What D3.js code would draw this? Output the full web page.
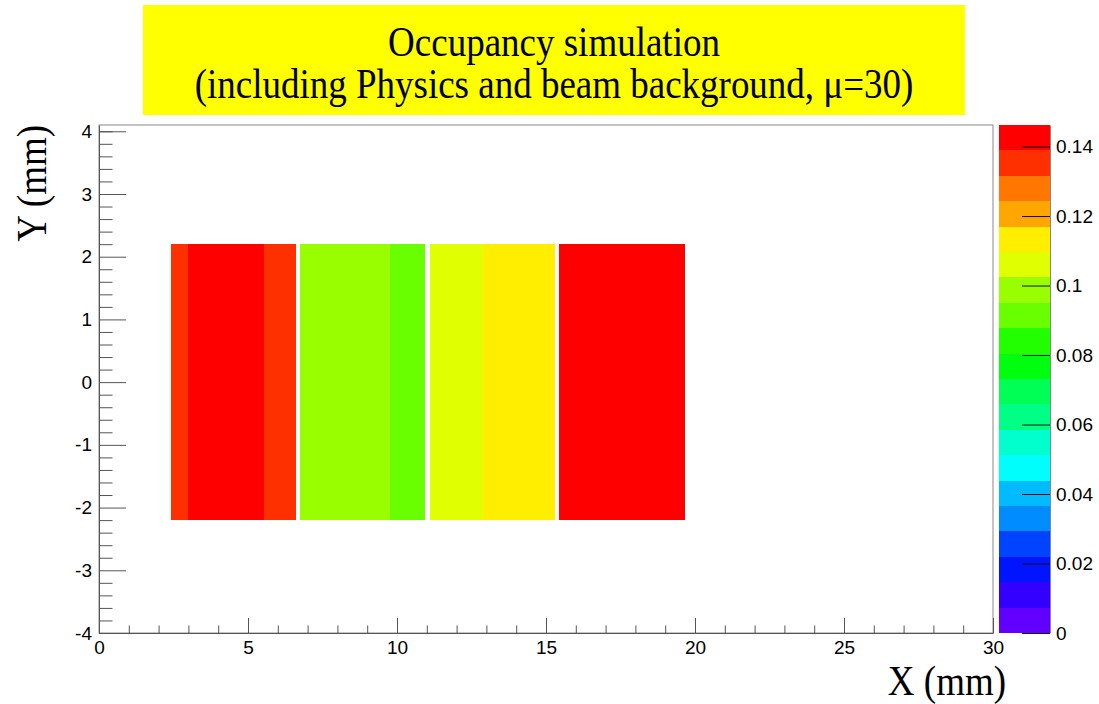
<!DOCTYPE html>
<html>
<head>
<meta charset="utf-8">
<script src="https://cdn.jsdelivr.net/npm/d3@7"></script>
<style>
  body { margin: 0; background: #fff; }
  svg { display: block; }
</style>
</head>
<body>
<svg id="chart" width="1099" height="704"></svg>
<script>
// ---- chart content ----
const titleLines = ["Occupancy simulation", "(including Physics and beam background, \u03bc=30)"];
const xTitle = "X (mm)";
const yTitle = "Y (mm)";

// Occupancy cells: x edges (mm), y span (mm), occupancy value
const cellX0 = [2.4, 3.0, 5.55, 6.75, 9.75, 11.1, 12.9, 15.45];
const cellX1 = [3.0, 5.55, 6.6, 9.75, 10.95, 12.9, 15.3, 19.65];
const cellYLow = [-2.2, -2.2, -2.2, -2.2, -2.2, -2.2, -2.2, -2.2];
const cellYHigh = [2.2, 2.2, 2.2, 2.2, 2.2, 2.2, 2.2, 2.2];
const cellZ = [0.135, 0.144, 0.135, 0.098, 0.092, 0.106, 0.113, 0.146];

// Axis ranges and tick labels
const xDomain = [0, 30];
const yDomain = [-4, 4.1];
const zDomain = [0, 0.1462];
const xTicks = [0, 5, 10, 15, 20, 25, 30];
const xMinorTicks = [1, 2, 3, 4, 6, 7, 8, 9, 11, 12, 13, 14, 16, 17, 18, 19, 21, 22, 23, 24, 26, 27, 28, 29];
const yTicks = [-4, -3, -2, -1, 0, 1, 2, 3, 4];
const yTickLabels = ["-4", "-3", "-2", "-1", "0", "1", "2", "3", "4"];
const yMinorTicks = [-3.8, -3.6, -3.4, -3.2, -2.8, -2.6, -2.4, -2.2, -1.8, -1.6, -1.4, -1.2,
  -0.8, -0.6, -0.4, -0.2, 0.2, 0.4, 0.6, 0.8, 1.2, 1.4, 1.6, 1.8, 2.2, 2.4, 2.6, 2.8,
  3.2, 3.4, 3.6, 3.8, 4.0];
const zTicks = [0, 0.02, 0.04, 0.06, 0.08, 0.1, 0.12, 0.14];
const zTickLabels = ["0", "0.02", "0.04", "0.06", "0.08", "0.1", "0.12", "0.14"];

// 20-level violet -> red contour palette
const palette = [
  "#6200ff", "#3300ff", "#0014ff", "#0044ff", "#008bff",
  "#00bbff", "#00fffc", "#00ffcc", "#00ff85", "#00ff55",
  "#00ff0e", "#22ff00", "#69ff00", "#99ff00", "#e0ff00",
  "#ffee00", "#ffa700", "#ff7700", "#ff3000", "#ff0000"
];

// ---- layout ----
const frame = { left: 99, right: 993, top: 125, bottom: 633 };
const bar = { left: 999, right: 1050 };
const serif = "'Liberation Serif', 'Times New Roman', serif";
const sans = "'Liberation Sans', Arial, Helvetica, sans-serif";
const serifSize = 37;
const serifStretch = 1.13;   // tall, narrow serif lettering
const labelSize = 19;

const svg = d3.select("#chart");

const x = d3.scaleLinear().domain(xDomain).range([frame.left, frame.right]);
const y = d3.scaleLinear().domain(yDomain).range([frame.bottom, frame.top]);
const zPos = d3.scaleLinear().domain(zDomain).range([frame.bottom, frame.top]);
const zColor = d3.scaleQuantize().domain(zDomain).range(palette);

// Title box
const titleG = svg.append("g");
titleG.append("rect")
  .attr("x", 143).attr("y", 5).attr("width", 822).attr("height", 110)
  .attr("fill", "#ffff00");
titleG.selectAll("text").data(titleLines).join("text")
  .attr("transform", (d, i) => `translate(554,${56 + i * 42}) scale(1,${serifStretch})`)
  .attr("text-anchor", "middle")
  .attr("font-family", serif)
  .attr("font-size", serifSize)
  .attr("fill", "#000")
  .text(d => d);

// Cells
const cells = cellZ.map((z, i) => ({ x0: cellX0[i], x1: cellX1[i], y0: cellYLow[i], y1: cellYHigh[i], z }));
svg.append("g").selectAll("rect").data(cells).join("rect")
  .attr("x", d => x(d.x0))
  .attr("y", d => y(d.y1))
  .attr("width", d => x(d.x1) - x(d.x0))
  .attr("height", d => y(d.y0) - y(d.y1))
  .attr("fill", d => zColor(d.z))
  .attr("shape-rendering", "crispEdges");

// Frame
svg.append("rect")
  .attr("x", frame.left).attr("y", frame.top)
  .attr("width", frame.right - frame.left).attr("height", frame.bottom - frame.top)
  .attr("fill", "none").attr("stroke", "#888").attr("stroke-width", 1);

function styleAxis(g, color) {
  g.select(".domain").attr("stroke", color);
  g.selectAll(".tick line").attr("stroke", color);
  g.selectAll(".tick text").attr("fill", "#000").attr("font-family", sans).attr("font-size", labelSize);
}

// X axis (ticks point into the frame)
const xAxisG = svg.append("g").attr("transform", `translate(0,${frame.bottom})`)
  .call(d3.axisBottom(x).tickValues(xTicks).tickFormat(d3.format("d"))
    .tickSizeInner(-15).tickSizeOuter(0).tickPadding(8));
styleAxis(xAxisG, "#555");
svg.append("g").attr("transform", `translate(0,${frame.bottom})`)
  .call(d3.axisBottom(x).tickValues(xMinorTicks).tickFormat("")
    .tickSizeInner(-7.5).tickSizeOuter(0))
  .call(g => { g.select(".domain").remove(); g.selectAll(".tick line").attr("stroke", "#555"); });

// Y axis
const yAxisG = svg.append("g").attr("transform", `translate(${frame.left},0)`)
  .call(d3.axisLeft(y).tickValues(yTicks).tickFormat((d, i) => yTickLabels[i])
    .tickSizeInner(-27).tickSizeOuter(0).tickPadding(7));
styleAxis(yAxisG, "#555");
svg.append("g").attr("transform", `translate(${frame.left},0)`)
  .call(d3.axisLeft(y).tickValues(yMinorTicks).tickFormat("")
    .tickSizeInner(-13.5).tickSizeOuter(0))
  .call(g => { g.select(".domain").remove(); g.selectAll(".tick line").attr("stroke", "#555"); });

// Axis titles
svg.append("text")
  .attr("transform", `translate(1006,695) scale(1,${serifStretch})`)
  .attr("text-anchor", "end")
  .attr("font-family", serif).attr("font-size", serifSize)
  .text(xTitle);
svg.append("text")
  .attr("transform", `translate(46,125) rotate(-90) scale(1,${serifStretch})`)
  .attr("text-anchor", "end")
  .attr("font-family", serif).attr("font-size", serifSize)
  .text(yTitle);

// Colour bar: one band per palette level
const nLevels = palette.length;
const levelEdges = d3.range(nLevels + 1).map(i => zDomain[0] + (zDomain[1] - zDomain[0]) * i / nLevels);
svg.append("g").selectAll("rect").data(palette).join("rect")
  .attr("x", bar.left)
  .attr("y", (d, i) => zPos(levelEdges[i + 1]))
  .attr("width", bar.right - bar.left)
  .attr("height", (d, i) => zPos(levelEdges[i]) - zPos(levelEdges[i + 1]))
  .attr("fill", d => d)
  .attr("shape-rendering", "crispEdges");

const zAxisG = svg.append("g").attr("transform", `translate(${bar.right},0)`)
  .call(d3.axisRight(zPos).tickValues(zTicks).tickFormat((d, i) => zTickLabels[i])
    .tickSizeInner(-28).tickSizeOuter(0).tickPadding(6));
styleAxis(zAxisG, "#888");
zAxisG.selectAll(".tick line").attr("stroke", "#111");
</script>
</body>
</html>
